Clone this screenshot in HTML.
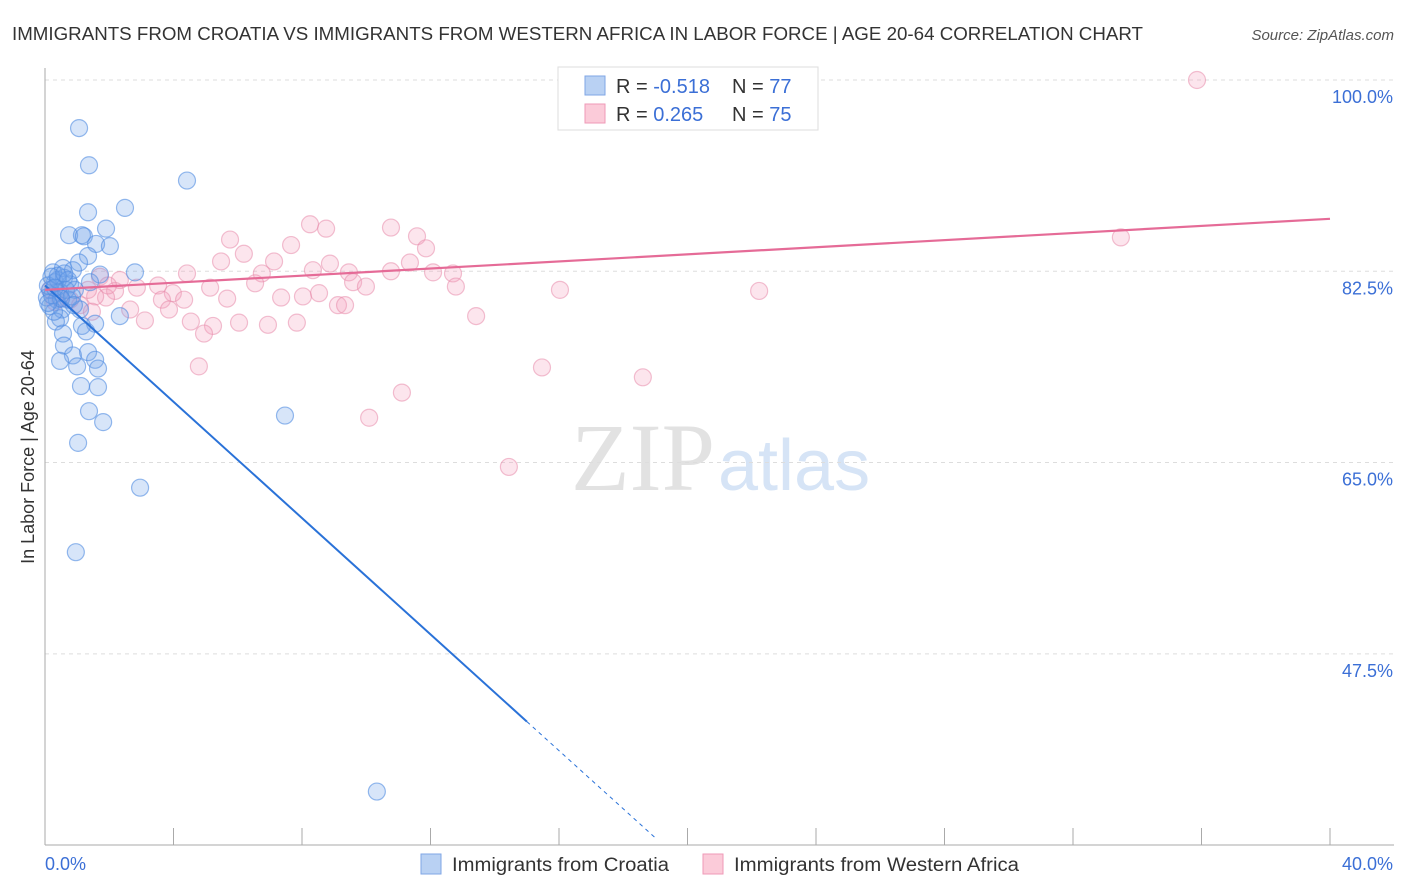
<!DOCTYPE html>
<html><head><meta charset="utf-8"><style>
body{margin:0;background:#fff;font-family:"Liberation Sans",sans-serif}
svg{display:block}
</style></head><body>
<svg id="c" width="1406" height="892">
<text x="12" y="40" font-size="18" fill="#333" textLength="1131" lengthAdjust="spacingAndGlyphs">IMMIGRANTS FROM CROATIA VS IMMIGRANTS FROM WESTERN AFRICA IN LABOR FORCE | AGE 20-64 CORRELATION CHART</text>
<text x="1394" y="40" font-size="15" fill="#555" font-style="italic" text-anchor="end">Source: ZipAtlas.com</text>
<text x="0" y="0" transform="translate(34,457) rotate(-90)" font-size="18" fill="#333" text-anchor="middle">In Labor Force | Age 20-64</text>
<text x="715" y="490" font-size="96" fill="#e2e2e2" font-family="Liberation Serif,serif" text-anchor="end">ZIP</text>
<text x="718" y="490" font-size="72" fill="#d6e4f6">atlas</text>
<g id="grid"></g><g id="pts"></g><g id="lines"></g>
<g>
<rect x="558" y="67" width="260" height="63" fill="#fff" stroke="#ddd"/>
<rect x="585" y="76" width="20" height="19" fill="#b9d1f3" stroke="#7fa6e6"/>
<rect x="585" y="104" width="20" height="19" fill="#fbcbd9" stroke="#ef9ab7"/>
<text x="616" y="93" font-size="20" fill="#333">R = <tspan fill="#3b6fd6">-0.518</tspan></text>
<text x="732" y="93" font-size="20" fill="#333">N = <tspan fill="#3b6fd6">77</tspan></text>
<text x="616" y="121" font-size="20" fill="#333">R = <tspan fill="#3b6fd6"> 0.265</tspan></text>
<text x="732" y="121" font-size="20" fill="#333">N = <tspan fill="#3b6fd6">75</tspan></text>
</g>
<g>
<rect x="421" y="854" width="20" height="20" fill="#b9d1f3" stroke="#7fa6e6"/>
<text x="452" y="871" font-size="19" fill="#333" textLength="217" lengthAdjust="spacingAndGlyphs">Immigrants from Croatia</text>
<rect x="703" y="854" width="20" height="20" fill="#fbcbd9" stroke="#ef9ab7"/>
<text x="734" y="871" font-size="19" fill="#333" textLength="285" lengthAdjust="spacingAndGlyphs">Immigrants from Western Africa</text>
</g>
<text x="45" y="870" font-size="18" fill="#3b6fd6">0.0%</text>
<text x="1393" y="870" font-size="18" fill="#3b6fd6" text-anchor="end">40.0%</text>
</svg>
<script>
const yTicks=[100,82.5,65,47.5];
const yTickLabels=["100.0%","82.5%","65.0%","47.5%"];
const xTicks=[0,4,8,12,16,20,24,28,32,36,40];
const blueX=[1.06,1.37,4.42,2.49,1.34,0.75,1.15,1.21,1.90,1.59,2.02,1.34,1.06,0.56,0.87,0.25,2.80,1.71,0.59,1.40,0.31,0.78,0.16,0.47,0.93,0.06,0.37,0.72,0.16,0.53,1.09,0.47,0.34,2.33,1.56,1.15,1.28,0.56,0.59,0.87,1.34,0.47,1.56,1.0,1.65,1.12,1.65,1.37,1.81,1.03,7.47,2.96,0.96,10.33,0.09,0.22,0.40,0.65,0.84,0.28,0.40,0.72,0.2,0.5,0.1,0.9,0.3,0.6];
const blueY=[95.6,92.2,90.8,88.3,87.9,85.8,85.8,85.7,86.4,85.0,84.8,83.9,83.3,82.8,82.6,82.4,82.4,82.2,81.9,81.5,81.5,81.3,80.8,80.6,80.8,80.1,79.9,79.9,79.3,79.0,79.0,78.2,77.9,78.4,77.7,77.5,77.0,76.8,75.7,74.8,75.1,74.3,74.4,73.8,73.6,72.0,71.9,69.7,68.7,66.8,69.3,62.7,56.8,34.9,81.2,80.3,81.7,80.8,80.2,78.8,82.1,81.7,82.0,80.0,79.6,79.4,81.0,82.3];
const pinkX=[35.86,33.49,8.25,8.75,10.77,11.58,5.76,7.66,11.86,6.19,5.48,7.13,8.87,11.36,4.42,6.75,8.34,9.46,10.77,12.08,12.70,6.54,9.59,9.99,12.79,16.03,22.23,5.14,3.98,2.18,2.86,3.52,4.33,5.67,7.35,8.03,8.53,9.12,9.34,1.90,3.64,1.56,2.65,3.86,3.11,4.54,5.23,4.95,6.04,6.94,7.84,13.42,4.79,15.47,18.61,11.11,10.09,14.44,1.71,0.78,1.09,0.47,1.34,2.33,1.96,0.16,0.31,1.46];
const pinkY=[100,85.6,86.8,86.4,86.5,85.7,85.4,84.9,84.6,84.1,83.4,83.4,83.2,83.3,82.3,82.3,82.6,82.4,82.5,82.4,82.3,81.4,81.5,81.1,81.1,80.8,80.7,81.0,80.5,80.7,81.0,81.2,79.9,80.0,80.1,80.2,80.5,79.4,79.4,80.1,79.9,80.2,79.0,79.0,78.0,77.9,77.5,76.8,77.8,77.6,77.8,78.4,73.8,73.7,72.8,71.4,69.1,64.6,82.0,79.9,79.4,80.0,80.8,81.7,81.2,80.8,79.7,78.8];
const blueLine=[81.2,-2.66];
const pinkLine=[80.8,0.1625];
const xs=v=>45+v*32.125, ys=v=>80+(100-v)*10.93;
const NS="http://www.w3.org/2000/svg";
function mk(t,a,p){const e=document.createElementNS(NS,t);for(const k in a)e.setAttribute(k,a[k]);p.appendChild(e);return e;}
const grid=document.getElementById('grid');
yTicks.forEach((v,i)=>{
 const l=mk('line',{x1:45,x2:1394,y1:ys(v),y2:ys(v),stroke:'#ddd','stroke-dasharray':'4,4'},grid);
 
 
 const t=mk('text',{x:1393,y:ys(v)+23,'font-size':18,fill:'#3b6fd6','text-anchor':'end'},grid);
 t.textContent=yTickLabels[i];
 
 
});
const ax=mk('line',{x1:45,x2:1394,y1:845,y2:845,stroke:'#aaa'},grid);


const ay=mk('line',{x1:45,x2:45,y1:68,y2:845,stroke:'#aaa'},grid);


xTicks.forEach(v=>{const t=mk('line',{x1:xs(v),x2:xs(v),y1:828,y2:845,stroke:'#aaa'},grid);
 
 });
const pts=document.getElementById('pts');
pinkX.forEach((x,i)=>{const c=mk('circle',{cx:xs(x),cy:ys(pinkY[i]),r:8.5,fill:'rgba(244,160,190,0.28)',stroke:'rgba(232,140,172,0.55)','stroke-width':1.2},pts);
 
 });
blueX.forEach((x,i)=>{const c=mk('circle',{cx:xs(x),cy:ys(blueY[i]),r:8.5,fill:'rgba(110,160,235,0.28)',stroke:'rgba(80,140,225,0.6)','stroke-width':1.2},pts);
 
 });
const lines=document.getElementById('lines');
const bf=x=>blueLine[0]+blueLine[1]*x;
const b1=mk('line',{x1:xs(0),y1:ys(bf(0)),x2:xs(15),y2:ys(bf(15)),stroke:'#2a72d8','stroke-width':2},lines);


const xe=(blueLine[0]-30.5)/-blueLine[1];
const b2=mk('line',{x1:xs(15),y1:ys(bf(15)),x2:xs(xe),y2:ys(bf(xe)),stroke:'#2a72d8','stroke-width':1,'stroke-dasharray':'4,4'},lines);


const pf=x=>pinkLine[0]+pinkLine[1]*x;
const p1=mk('line',{x1:xs(0),y1:ys(pf(0)),x2:xs(40),y2:ys(pf(40)),stroke:'#e56b97','stroke-width':2.2},lines);


</script>
</body></html>
